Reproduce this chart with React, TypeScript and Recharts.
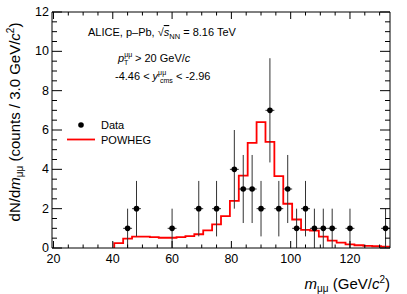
import React from 'react';
import { ComposedChart, Line, Scatter, XAxis, YAxis, ErrorBar, Customized } from 'recharts';

// Data (ALICE points)
const dataMass = [45, 48, 60, 69, 75, 81, 84, 87, 90, 93, 96, 99, 102, 105, 108, 111, 114, 120, 132];
const dataCounts = [1, 2, 1, 2, 2, 4, 3, 3, 2, 7, 2, 3, 1, 2, 1, 1, 1, 1, 1];
const dataErr = [1, 1.41, 1, 1.41, 1.41, 2, 1.73, 1.73, 1.41, 2.65, 1.41, 1.73, 1, 1.41, 1, 1, 1, 1, 1];
const binHalfWidth = 1.5;

// POWHEG histogram (lower bin edges and contents)
const powhegEdges = [40.5, 43.5, 46.5, 49.5, 52.5, 55.5, 58.5, 61.5, 64.5, 67.5, 70.5, 73.5, 76.5, 79.5, 82.5, 85.5, 88.5, 91.5, 94.5, 97.5, 100.5, 103.5, 106.5, 109.5, 112.5, 115.5, 118.5, 121.5, 124.5, 127.5, 130.5];
const powhegValues = [0.25, 0.48, 0.58, 0.58, 0.55, 0.52, 0.52, 0.55, 0.6, 0.7, 0.9, 1.2, 1.62, 2.4, 3.68, 5.35, 6.4, 5.4, 3.65, 2.25, 1.45, 0.92, 0.88, 0.58, 0.38, 0.27, 0.18, 0.14, 0.11, 0.09, 0.07];
const powhegEnd = 133.5;

// Axes
const xDomain = [19.5, 133.5];
const yDomain = [0, 12];
const xMajorTicks = [20, 40, 60, 80, 100, 120];
const xAllTicks = [20, 25, 30, 35, 40, 45, 50, 55, 60, 65, 70, 75, 80, 85, 90, 95, 100, 105, 110, 115, 120, 125, 130];
const yMajorTicks = [0, 2, 4, 6, 8, 10, 12];
const yAllTicks = [0, 0.5, 1, 1.5, 2, 2.5, 3, 3.5, 4, 4.5, 5, 5.5, 6, 6.5, 7, 7.5, 8, 8.5, 9, 9.5, 10, 10.5, 11, 11.5, 12];

const points = dataMass.map((m, i) => ({ x: m, y: dataCounts[i], yerr: dataErr[i], xerr: binHalfWidth }));
const histData = [
  { x: powhegEdges[0], y: 0 },
  ...powhegEdges.map((e, i) => ({ x: e, y: powhegValues[i] })),
  { x: powhegEnd, y: powhegValues[powhegValues.length - 1] },
];

const FONT = 'Liberation Sans, Arial, Helvetica, sans-serif';

const XTickBottom = (props: any) => {
  const { x, y, payload } = props;
  const major = xMajorTicks.includes(payload.value);
  return (
    <g>
      <line x1={x} x2={x} y1={y} y2={y - (major ? 7 : 3.5)} stroke="#000" strokeWidth={1} />
      {major && (
        <text x={x} y={y + 15} textAnchor="middle" fontSize={12.5} fontFamily={FONT} fill="#000">
          {payload.value}
        </text>
      )}
    </g>
  );
};

const XTickTop = (props: any) => {
  const { x, y, payload } = props;
  const major = xMajorTicks.includes(payload.value);
  return <line x1={x} x2={x} y1={y} y2={y + (major ? 7 : 3.5)} stroke="#000" strokeWidth={1} />;
};

const YTickLeft = (props: any) => {
  const { x, y, payload } = props;
  const major = yMajorTicks.includes(payload.value);
  return (
    <g>
      <line x1={x} x2={x + (major ? 10 : 5)} y1={y} y2={y} stroke="#000" strokeWidth={1} />
      {major && (
        <text x={x - 3} y={y + 4} textAnchor="end" fontSize={12.5} fontFamily={FONT} fill="#000">
          {payload.value}
        </text>
      )}
    </g>
  );
};

const YTickRight = (props: any) => {
  const { x, y, payload } = props;
  const major = yMajorTicks.includes(payload.value);
  return <line x1={x} x2={x - (major ? 10 : 5)} y1={y} y2={y} stroke="#000" strokeWidth={1} />;
};

const Annotations = () => (
  <g fontFamily={FONT} fill="#000">
    {/* Y axis title */}
    <text transform="translate(19.5,122) rotate(-90)" textAnchor="middle" fontSize={15}>
      <tspan>dN/d</tspan>
      <tspan fontStyle="italic">m</tspan>
      <tspan fontSize={10} dy={3}>μμ</tspan>
      <tspan dy={-3}> (counts / 3.0 GeV/</tspan>
      <tspan fontStyle="italic">c</tspan>
      <tspan fontSize={10} dy={-6}>2</tspan>
      <tspan dy={6}>)</tspan>
    </text>
    {/* X axis title */}
    <text x={390} y={289} textAnchor="end" fontSize={15}>
      <tspan fontStyle="italic">m</tspan>
      <tspan fontSize={10} dy={3}>μμ</tspan>
      <tspan dy={-3}> (GeV/</tspan>
      <tspan fontStyle="italic">c</tspan>
      <tspan fontSize={10} dy={-6}>2</tspan>
      <tspan dy={6}>)</tspan>
    </text>
    {/* Header text */}
    <text x={88} y={36} fontSize={11}>
      <tspan>ALICE, p–Pb, √</tspan>
      <tspan fontStyle="italic" textDecoration="overline">s</tspan>
      <tspan fontSize={7.5} dy={2.5}>NN</tspan>
      <tspan dy={-2.5}> = 8.16 TeV</tspan>
    </text>
    <text x={118} y={62} fontSize={11}>
      <tspan fontStyle="italic">p</tspan>
      <tspan fontSize={7} dy={-5}>μμ</tspan>
      <tspan fontSize={7} x={124} dy={8}>T</tspan>
      <tspan x={135} dy={-3}>&gt; 20 GeV/</tspan>
      <tspan fontStyle="italic">c</tspan>
    </text>
    <text x={115} y={80} fontSize={11}>
      <tspan>-4.46 &lt; </tspan>
      <tspan fontStyle="italic">y</tspan>
      <tspan fontSize={7} dy={-5}>μμ</tspan>
      <tspan fontSize={7} x={160} dy={8}>cms</tspan>
      <tspan dy={-3}> &lt; -2.96</tspan>
    </text>
    {/* Legend */}
    <circle cx={81} cy={125} r={2.8} fill="#000" />
    <text x={101} y={129} fontSize={11}>Data</text>
    <line x1={67} x2={95} y1={139.5} y2={139.5} stroke="#ff0000" strokeWidth={1.8} />
    <text x={101} y={144} fontSize={11}>POWHEG</text>
  </g>
);

export default function App() {
  return (
    <div style={{ position: 'absolute', left: 0, top: 0, width: 407, height: 294, background: '#fff' }}>
      <ComposedChart width={407} height={294} margin={{ top: 0, right: 0, bottom: 0, left: 0 }}>
        <XAxis
          xAxisId="b"
          dataKey="x"
          type="number"
          orientation="bottom"
          domain={xDomain}
          allowDataOverflow
          ticks={xAllTicks}
          interval={0}
          tickSize={0}
          tickMargin={0}
          tickLine={false}
          tick={XTickBottom}
          height={46}
          axisLine={{ stroke: '#000', strokeWidth: 1 }}
        />
        <XAxis
          xAxisId="t"
          dataKey="x"
          type="number"
          orientation="top"
          domain={xDomain}
          allowDataOverflow
          ticks={xAllTicks}
          interval={0}
          tickSize={0}
          tickMargin={0}
          tickLine={false}
          tick={XTickTop}
          height={12}
          axisLine={{ stroke: '#000', strokeWidth: 1 }}
        />
        <YAxis
          yAxisId="l"
          type="number"
          orientation="left"
          domain={yDomain}
          allowDataOverflow
          ticks={yAllTicks}
          interval={0}
          tickSize={0}
          tickMargin={0}
          tickLine={false}
          tick={YTickLeft}
          width={52}
          axisLine={{ stroke: '#000', strokeWidth: 1 }}
        />
        <YAxis
          yAxisId="r"
          type="number"
          orientation="right"
          domain={yDomain}
          allowDataOverflow
          ticks={yAllTicks}
          interval={0}
          tickSize={0}
          tickMargin={0}
          tickLine={false}
          tick={YTickRight}
          width={17}
          axisLine={{ stroke: '#000', strokeWidth: 1 }}
        />
        <Line
          xAxisId="b"
          yAxisId="l"
          data={histData}
          dataKey="y"
          type="stepAfter"
          stroke="#ff0000"
          strokeWidth={1.8}
          dot={false}
          activeDot={false}
          isAnimationActive={false}
        />
        <Scatter
          xAxisId="b"
          yAxisId="l"
          data={points}
          dataKey="y"
          isAnimationActive={false}
          shape={(p: any) => <circle cx={p.cx} cy={p.cy} r={2.8} fill="#000" />}
        >
          <ErrorBar dataKey="yerr" direction="y" width={0} stroke="#333" strokeWidth={1} isAnimationActive={false} />
          <ErrorBar dataKey="xerr" direction="x" width={0} stroke="#333" strokeWidth={1} isAnimationActive={false} />
        </Scatter>
        <Customized component={Annotations} />
      </ComposedChart>
    </div>
  );
}
